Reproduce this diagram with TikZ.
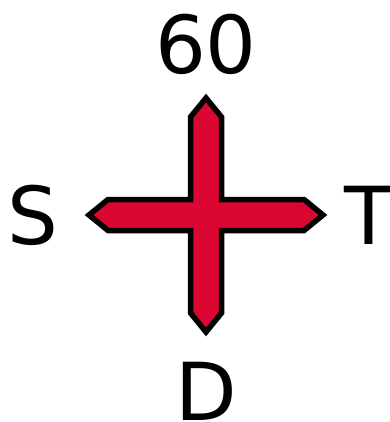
\documentclass[tikz,border=0pt]{standalone}
\usepackage{fontspec}
\setmainfont{DejaVu Sans}
\definecolor{crossred}{RGB}{220,6,50}

\begin{document}
\begin{tikzpicture}[x=1pt,y=-1pt,
    dirlabel/.style={inner sep=0pt,anchor=base,font=\fontsize{80}{96}\selectfont},
    crossarm/.style={draw=black,line width=5.5pt,fill=crossred,line join=miter}]
    \useasboundingbox (0,0) rectangle (389,422);

    % the cross, drawn round its centre
    \begin{scope}[shift={(206,215)}]
        \path[crossarm] (-15.5,-98) -- (0,-117) -- (15.5,-98) -- (15.5,-15.5)
            -- (98,-15.5) -- (117,0) -- (98,15.5) -- (15.5,15.5)
            -- (15.5,98) -- (0,117) -- (-15.5,98) -- (-15.5,15.5)
            -- (-98,15.5) -- (-117,0) -- (-98,-15.5) -- (-15.5,-15.5) -- cycle;
    \end{scope}

    \node[dirlabel] (north) at (206,74) {60};
    \node[dirlabel] (west) at (33,244) {S};
    \node[dirlabel] (east) at (369,244) {T};
    \node[dirlabel] (south) at (206,420) {D};
\end{tikzpicture}
\end{document}
